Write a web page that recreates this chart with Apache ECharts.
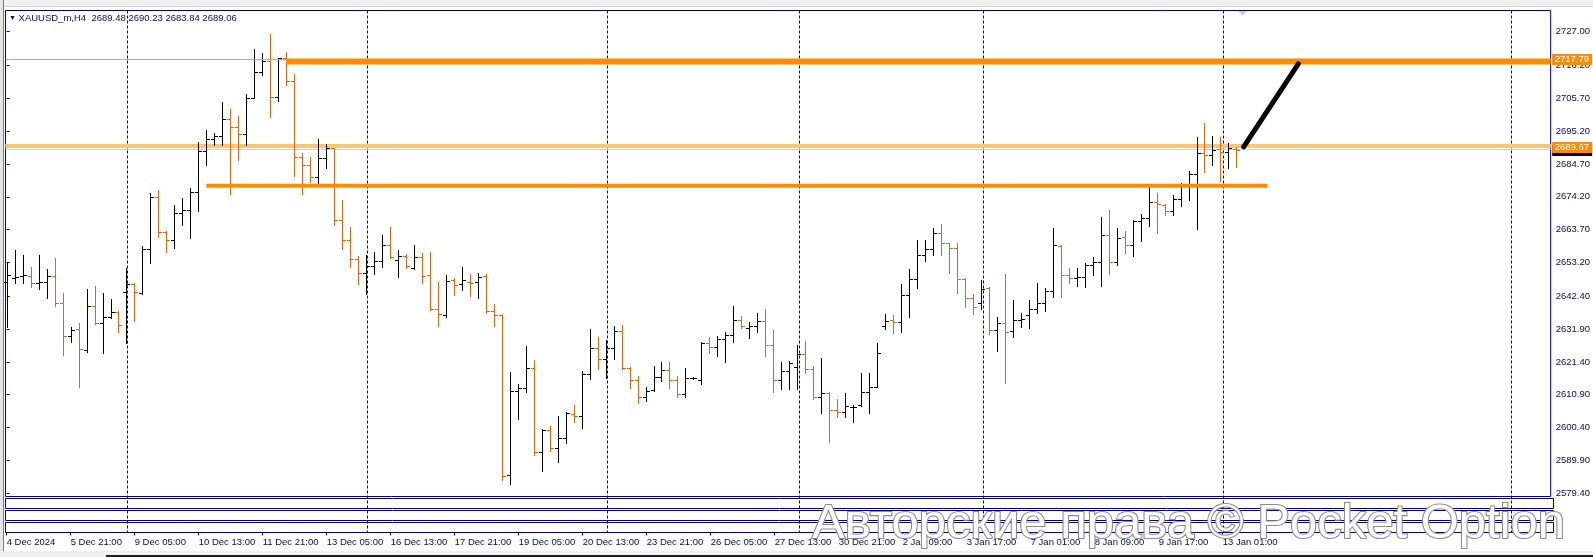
<!DOCTYPE html>
<html><head><meta charset="utf-8">
<script src="https://cdn.jsdelivr.net/npm/echarts@6/dist/echarts.min.js"></script>
<style>html,body{margin:0;padding:0;background:#fff;overflow:hidden}#c{width:1593px;height:557px}</style>
</head><body><div id="c"></div>
<script>
// ---- data ----
const symbolName = 'XAUUSD_m';
const timeframe = 'H4';
const opens = [2647.06,2648.12,2648.87,2648.87,2646.53,2647.06,2648.87,2640.34,2629.68,2631.82,
2625.21,2639.28,2633.95,2635.87,2637.25,2643.65,2646.21,2643.33,2657.40,2674.03,
2662.94,2660.38,2669.13,2669.87,2675.63,2688.85,2692.68,2693.75,2698.97,2696.63,
2694.28,2705.90,2714.22,2717.73,2706.01,2718.48,2711.34,2686.82,2684.37,2680.42,
2686.71,2689.70,2666.67,2660.28,2654.41,2649.94,2652.07,2653.77,2658.68,2653.90,
2655.28,2651.54,2654.85,2649.09,2638.22,2636.41,2647.60,2646.21,2647.07,2646.85,
2648.88,2637.79,2636.41,2585.13,2612.10,2612.95,2619.35,2592.70,2599.63,2593.98,
2596.97,2604.75,2604.11,2617.43,2625.96,2622.23,2625.75,2631.40,2619.35,2615.62,
2610.29,2612.42,2616.69,2618.82,2615.51,2611.04,2616.30,2615.62,2627.35,2626.07,
2628.63,2630.01,2634.70,2632.14,2632.89,2634.59,2626.81,2615.62,2618.50,2619.88,
2624.04,2619.24,2610.29,2611.57,2606.03,2605.28,2606.88,2607.62,2611.68,2613.49,
2632.89,2634.81,2634.06,2642.69,2647.81,2655.59,2657.51,2662.52,2659.32,2657.72,
2647.81,2641.73,2640.35,2644.93,2631.61,2633.74,2631.39,2634.80,2636.30,2638.22,
2640.13,2644.08,2658.58,2649.09,2648.34,2648.66,2652.39,2653.25,2661.99,2653.25,
2661.24,2658.79,2666.57,2667.32,2672.65,2671.58,2669.66,2673.39,2678.30,2681.49,
2688.10,2687.57,2689.38,2688.64,2689.48];
const highs = [2653.45,2657.19,2655.59,2651.64,2655.59,2651.00,2654.63,2643.33,2632.67,2633.73,
2644.61,2645.67,2643.33,2641.41,2637.60,2651.32,2646.53,2658.47,2675.31,2676.37,
2663.16,2671.58,2673.71,2676.91,2691.62,2695.56,2694.50,2704.62,2702.28,2700.04,
2707.07,2721.36,2720.08,2726.26,2718.48,2720.40,2713.36,2688.10,2687.03,2692.68,
2691.08,2689.91,2673.18,2664.43,2655.27,2655.59,2656.65,2661.98,2664.65,2657.19,
2655.91,2658.79,2656.34,2656.66,2647.07,2649.20,2648.35,2651.65,2649.41,2649.73,
2649.41,2639.82,2636.60,2618.28,2614.34,2626.60,2622.02,2599.84,2600.91,2604.11,
2605.28,2607.62,2618.50,2631.93,2629.26,2628.41,2632.89,2633.21,2619.67,2616.90,
2613.27,2620.10,2621.38,2621.27,2617.01,2619.35,2616.69,2627.67,2629.26,2629.69,
2631.08,2639.29,2636.09,2634.27,2636.94,2638.22,2631.50,2621.48,2621.70,2626.81,
2628.09,2620.20,2622.55,2611.89,2609.44,2611.36,2607.62,2617.97,2617.97,2627.35,
2636.62,2636.41,2646.32,2651.11,2660.39,2660.39,2664.12,2665.50,2659.54,2659.54,
2648.13,2643.01,2647.60,2645.46,2635.66,2649.51,2641.20,2636.94,2641.20,2646.53,
2644.93,2664.12,2658.79,2651.33,2651.33,2652.93,2655.06,2667.85,2669.98,2664.12,
2663.27,2666.78,2668.60,2678.30,2675.31,2671.90,2674.78,2678.51,2682.56,2693.43,
2697.70,2693.65,2693.43,2691.30,2690.23];
const lows = [2632.67,2646.74,2646.74,2645.25,2644.61,2641.73,2639.38,2623.61,2627.87,2613.27,
2624.67,2633.41,2624.14,2635.33,2631.07,2627.34,2634.59,2643.11,2653.14,2661.45,
2656.65,2657.93,2665.18,2661.13,2669.76,2684.37,2690.76,2690.76,2674.99,2685.97,
2690.76,2705.90,2713.15,2699.61,2704.84,2709.85,2680.85,2674.99,2679.04,2678.72,
2683.30,2665.07,2657.40,2651.86,2646.21,2643.01,2649.51,2651.64,2654.52,2648.44,
2651.33,2651.01,2646.53,2638.01,2633.00,2635.87,2642.80,2644.40,2642.48,2641.95,
2636.94,2633.00,2583.64,2582.26,2603.04,2611.68,2591.63,2586.62,2593.02,2589.50,
2595.58,2602.30,2600.16,2616.05,2619.14,2616.15,2622.23,2619.14,2612.95,2608.16,
2609.01,2612.21,2615.41,2612.95,2610.08,2610.08,2616.05,2614.23,2624.36,2623.40,
2621.48,2627.88,2632.36,2628.94,2631.08,2623.40,2611.68,2612.64,2612.64,2612.64,
2617.97,2609.44,2605.17,2595.90,2603.68,2603.68,2602.29,2607.41,2605.17,2613.27,
2631.93,2630.76,2631.07,2635.87,2645.14,2653.78,2655.59,2655.59,2649.73,2643.33,
2639.07,2636.62,2638.22,2630.22,2625.00,2614.55,2629.26,2632.67,2632.14,2636.94,
2637.79,2642.05,2642.05,2646.74,2645.78,2645.25,2649.19,2645.78,2649.41,2652.39,
2656.34,2655.38,2660.17,2664.87,2662.73,2668.38,2668.38,2671.26,2673.18,2663.80,
2682.24,2684.37,2679.36,2683.31,2683.84];
const closes = [2649.19,2648.60,2649.19,2646.53,2646.85,2648.87,2640.34,2629.68,2631.60,2625.42,
2639.28,2633.95,2635.87,2637.25,2633.20,2646.21,2643.86,2657.40,2674.03,2662.94,
2660.38,2669.13,2669.87,2675.63,2688.85,2692.68,2693.75,2698.97,2696.41,2694.28,
2705.90,2714.22,2717.73,2706.01,2718.48,2711.34,2686.82,2684.37,2680.42,2686.71,
2689.70,2666.67,2660.28,2654.41,2649.94,2652.07,2653.77,2658.68,2654.84,2655.20,
2652.08,2654.85,2648.88,2638.22,2636.62,2647.28,2645.89,2647.60,2646.53,2648.45,
2637.79,2636.41,2584.92,2612.10,2612.96,2619.35,2592.50,2599.63,2593.90,2596.97,
2604.96,2604.11,2617.43,2625.96,2622.23,2625.75,2631.40,2619.35,2615.62,2610.29,
2612.21,2616.69,2618.82,2615.51,2611.04,2616.15,2616.40,2627.35,2626.07,2628.63,
2630.01,2634.70,2633.00,2632.89,2634.59,2626.81,2615.62,2618.50,2621.06,2624.04,
2619.24,2610.29,2611.57,2606.03,2605.28,2607.31,2607.09,2611.68,2613.49,2624.15,
2634.59,2634.27,2642.69,2647.81,2655.59,2657.51,2662.52,2659.54,2657.72,2647.81,
2641.73,2638.85,2644.61,2631.61,2633.74,2631.07,2634.80,2635.02,2638.22,2640.13,
2644.08,2658.79,2649.09,2648.34,2648.66,2652.39,2653.25,2661.99,2653.25,2660.92,
2658.79,2666.57,2667.32,2672.65,2671.90,2669.66,2673.39,2678.30,2681.49,2688.10,
2687.57,2689.17,2688.64,2689.70,2689.06];
const tickBars = [0,8,16,24,32,40,48,56,64,72,80,88,96,104,112,120,128,136,144,152];
const tickLabels = ['4 Dec 2024','5 Dec 21:00','9 Dec 05:00','10 Dec 13:00','11 Dec 21:00','13 Dec 05:00',
'16 Dec 13:00','17 Dec 21:00','19 Dec 05:00','20 Dec 13:00','23 Dec 21:00','26 Dec 05:00','27 Dec 13:00',
'30 Dec 21:00','2 Jan 09:00','3 Jan 17:00','7 Jan 01:00','8 Jan 09:00','9 Jan 17:00','13 Jan 01:00'];
const priceTicks = [2727.00,2716.20,2705.70,2695.20,2684.70,2674.20,2663.70,2653.20,2642.40,2631.90,2621.40,2610.90,2600.40,2589.90,2579.40];
const weekStartBars = [15,45,75,99,122,152,188];
// drawn objects (bar index / price)
const resistanceLine = 2718.1;
const resistanceZone = [[35, 2717.5], [193.35, 2717.5]];
const supportZone = [[25, 2677.7], [157.9, 2677.7]];
const pivotLines = [2690.77, 2690.13];
const pivotGlow = 2690.45;
const bidLine = 2689.35;
const forecastLine = [[154.9, 2690.2], [161.75, 2716.7]];
const tagLevels = [2689.2, 2690.23, 2718.18];
const tagTexts = ['2689.06', '2689.67', '2717.79'];
const watermarkText = 'Авторские права © Pocket Option';

// ---- chart ----
const NAVY = '#000080';
const TXT = '#0a0a5a';
const UP = '#000000';
const DOWN = '#d2691e';
const FONT = '"Liberation Sans", Arial, sans-serif';
const FS = 9.5;
const xMin = -0.15, xMax = 193.35;
const last = closes.length - 1;
const bars = opens.map((o, i) => [i, o, highs[i], lows[i], closes[i]]);
const header = `{t|▼} ${symbolName},${timeframe}  ${opens[last].toFixed(2)} ${highs[last].toFixed(2)} ${lows[last].toFixed(2)} ${closes[last].toFixed(2)}`;

function hLine(pts, color, width, z, cap) {
  return { type: 'line', xAxisIndex: 0, yAxisIndex: 0, data: pts, symbol: 'none', silent: true,
    animation: false, z: z, lineStyle: { color: color, width: width, cap: cap || 'butt' } };
}
const fullX = v => [[xMin, v], [xMax, v]];

const chart = echarts.init(document.getElementById('c'), null, { renderer: 'canvas' });
const xBase = { type: 'value', min: xMin, max: xMax, show: false };
const yHidden = { type: 'value', min: 0, max: 1, show: false };

chart.setOption({
  animation: false,
  backgroundColor: '#ffffff',
  title: {
    text: header, left: 9, top: 13, padding: 0,
    textStyle: { fontSize: FS, fontWeight: 'normal', color: TXT, fontFamily: FONT,
      rich: { t: { fontSize: 7, color: TXT } } }
  },
  grid: [
    { left: 5.5, top: 10.5, width: 1548, height: 486, show: true, borderColor: NAVY, borderWidth: 1, backgroundColor: '#fff' },
    { left: 5.5, top: 498.5, width: 1548, height: 10, show: true, borderColor: NAVY, borderWidth: 1 },
    { left: 5.5, top: 510.5, width: 1548, height: 10, show: true, borderColor: NAVY, borderWidth: 1 },
    { left: 5.5, top: 522.5, width: 1548, height: 10, show: true, borderColor: NAVY, borderWidth: 1 },
    { left: 5.5, top: 10.5, width: 1548, height: 522, show: false }
  ],
  xAxis: [
    Object.assign({ gridIndex: 0 }, xBase),
    Object.assign({ gridIndex: 1 }, xBase),
    Object.assign({ gridIndex: 2 }, xBase),
    { gridIndex: 3, type: 'value', min: xMin, max: xMax, position: 'bottom',
      axisLine: { show: false }, splitLine: { show: false },
      axisTick: { show: true, customValues: tickBars, length: 3, lineStyle: { color: NAVY } },
      axisLabel: { customValues: tickBars, align: 'left', margin: 5, fontSize: FS, color: TXT, fontFamily: FONT,
        formatter: v => tickLabels[Math.round(v / 8)] } },
    Object.assign({ gridIndex: 4 }, xBase)
  ],
  yAxis: [
    { gridIndex: 0, type: 'value', position: 'right', min: 2578.36, max: 2733.78,
      axisLine: { show: false }, splitLine: { show: false },
      axisTick: { show: true, customValues: priceTicks, length: 3, lineStyle: { color: NAVY } },
      axisLabel: { customValues: priceTicks, margin: 5, fontSize: FS, color: TXT, fontFamily: FONT,
        formatter: v => v.toFixed(2) } },
    Object.assign({ gridIndex: 1 }, yHidden),
    Object.assign({ gridIndex: 2 }, yHidden),
    Object.assign({ gridIndex: 3 }, yHidden),
    Object.assign({ gridIndex: 4 }, yHidden)
  ],
  series: [
    { // weekly dashed separators
      type: 'custom', xAxisIndex: 4, yAxisIndex: 4, z: 1, silent: true,
      data: weekStartBars.map(b => [b, 0]), encode: { x: 0, y: 1 },
      renderItem: (params, api) => {
        const p = api.coord([api.value(0), 0]);
        const cs = params.coordSys;
        const x = Math.round(p[0]) + 0.5;
        return { type: 'line', shape: { x1: x, y1: cs.y, x2: x, y2: cs.y + cs.height },
          style: { stroke: NAVY, lineWidth: 1, lineDash: [3, 2] } };
      }
    },
    hLine(fullX(pivotGlow), '#fff0b8', 4, 2),
    hLine(fullX(pivotLines[0]), '#f0a030', 1, 2),
    hLine(fullX(pivotLines[1]), '#f0a030', 1, 2),
    hLine(fullX(bidLine), '#cccccc', 1, 2),
    { // OHLC bars
      type: 'custom', xAxisIndex: 0, yAxisIndex: 0, z: 3, silent: true,
      data: bars, encode: { x: 0, y: [1, 2, 3, 4] },
      renderItem: (params, api) => {
        const i = api.value(0), o = api.value(1), h = api.value(2), l = api.value(3), c = api.value(4);
        const pH = api.coord([i, h]), pL = api.coord([i, l]), pO = api.coord([i, o]), pC = api.coord([i, c]);
        const xi = Math.round(pH[0]);
        const x = xi + 0.5;
        const col = c >= o ? UP : DOWN;
        const yO = Math.round(pO[1]) + 0.5, yC = Math.round(pC[1]) + 0.5;
        return { type: 'group', children: [
          { type: 'line', shape: { x1: x, y1: Math.round(pH[1]), x2: x, y2: Math.round(pL[1]) + 1 }, style: { stroke: col, lineWidth: 1 } },
          { type: 'line', shape: { x1: xi - 3, y1: yO, x2: xi, y2: yO }, style: { stroke: col, lineWidth: 1 } },
          { type: 'line', shape: { x1: xi + 1, y1: yC, x2: xi + 4, y2: yC }, style: { stroke: col, lineWidth: 1 } }
        ] };
      }
    },
    hLine(fullX(resistanceLine), '#f7a21b', 1, 4),
    hLine(resistanceZone, '#ff8c00', 6, 4),
    hLine(supportZone, '#ff8c00', 4, 4),
    hLine(forecastLine, '#000000', 5, 5, 'round'),
    { // price tags on the right scale
      type: 'custom', xAxisIndex: 0, yAxisIndex: 0, z: 6, silent: true, clip: false,
      data: tagLevels.map((v, k) => [xMax, v, k]), encode: { x: 0, y: 1 },
      renderItem: (params, api) => {
        const k = params.dataIndex;
        const p = api.coord([api.value(0), api.value(1)]);
        const yc = Math.round(p[1]);
        const fill = k === 0 ? '#000060' : '#ff8c00';
        return { type: 'group', children: [
          { type: 'rect', shape: { x: p[0] + 1.5, y: yc - 5, width: 40, height: 11 }, style: { fill: fill } },
          { type: 'text', style: { text: tagTexts[k], x: p[0] + 4, y: yc + 0.5, verticalAlign: 'middle',
            align: 'left', fill: '#ffffff', font: FS + 'px ' + FONT } }
        ] };
      }
    }
  ],
  graphic: [
    { type: 'rect', shape: { x: 0, y: 0, width: 1593, height: 7 }, style: { fill: '#f0f0f0' }, z: 50, silent: true },
    { type: 'rect', shape: { x: 0, y: 6.5, width: 1593, height: 0.5 }, style: { fill: '#b8b8b8' }, z: 50, silent: true },
    { type: 'rect', shape: { x: 0, y: 0, width: 3, height: 557 }, style: { fill: '#e6e6e6' }, z: 50, silent: true },
    { type: 'rect', shape: { x: 3, y: 0, width: 1, height: 557 }, style: { fill: '#7a7a7a' }, z: 50, silent: true },
    { type: 'rect', shape: { x: 0, y: 551, width: 1593, height: 6 }, style: { fill: '#f0f0f0' }, z: 50, silent: true },
    { type: 'rect', shape: { x: 106, y: 555, width: 1487, height: 2 }, style: { fill: '#202020' }, z: 50, silent: true },
    { type: 'polygon', shape: { points: [[1238, 11], [1247, 11], [1242.5, 15.5]] }, style: { fill: '#c9cbe0' }, z: 50, silent: true },
    { type: 'text', z: 100, silent: true, x: 812, y: 524,
      style: { text: watermarkText, font: '49px ' + FONT, fill: '#ffffff', stroke: '#8c8c8c', lineWidth: 2.2,
        verticalAlign: 'middle', align: 'left', shadowBlur: 3, shadowColor: 'rgba(0,0,0,0.35)' } }
  ]
});
</script>
</body></html>
